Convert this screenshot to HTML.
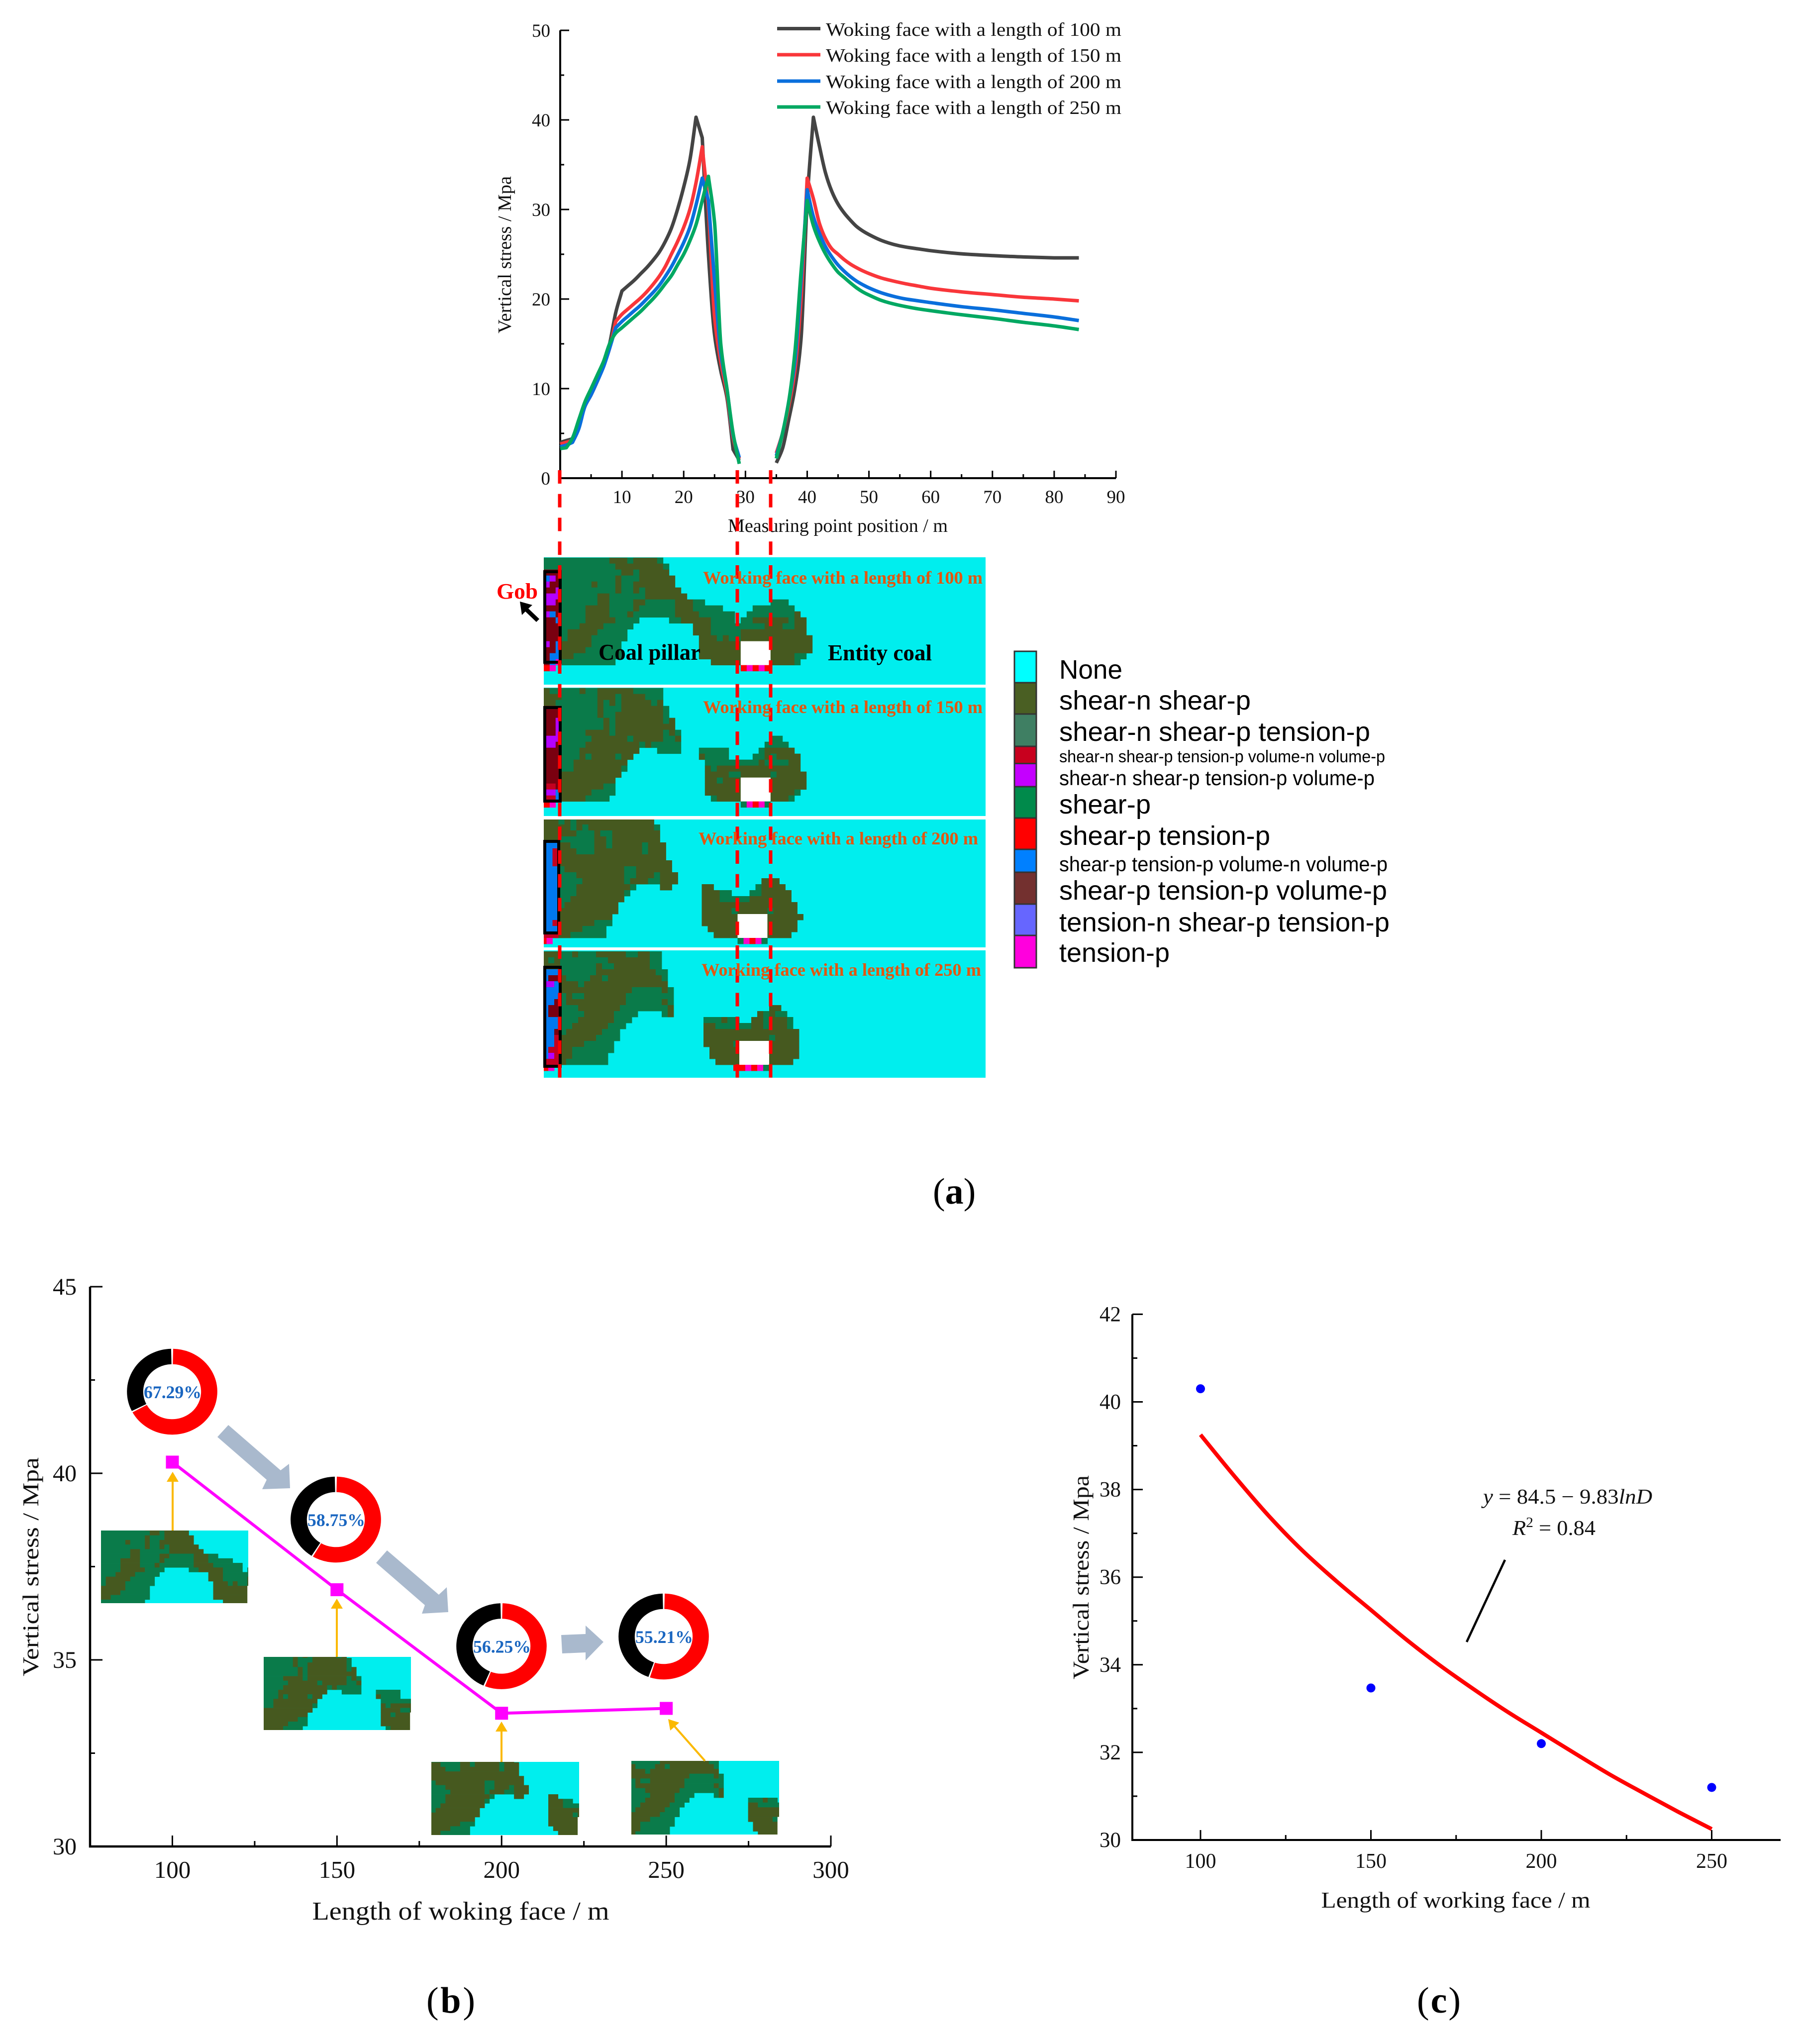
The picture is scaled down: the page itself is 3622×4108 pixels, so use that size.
<!DOCTYPE html>
<html lang="en">
<head>
<meta charset="utf-8">
<title>Vertical stress and plastic zone charts</title>
<style>
html,body{margin:0;padding:0;background:#fff;}
svg{display:block;}
text{font-family:"Liberation Serif",serif;fill:#111;}
.sans{font-family:"Liberation Sans",sans-serif;fill:#000;}
</style>
</head>
<body>
<svg id="fig" xmlns="http://www.w3.org/2000/svg" width="3622" height="4108" viewBox="0 0 3622 4108">
<rect x="0" y="0" width="3622" height="4108" fill="#fff"/>
<defs>
<clipPath id="clip-0"><rect x="1093" y="1120" width="888" height="256"/></clipPath>
<clipPath id="clip-1"><rect x="1093" y="1382" width="888" height="258"/></clipPath>
<clipPath id="clip-2"><rect x="1093" y="1647" width="888" height="257"/></clipPath>
<clipPath id="clip-3"><rect x="1093" y="1910" width="888" height="256"/></clipPath>
</defs>

<g id="chart-a">
  <text x="1014" y="512" transform="rotate(-90 1014 512) translate(0 13)" text-anchor="middle" font-size="38" textLength="316" lengthAdjust="spacingAndGlyphs">Vertical stress / Mpa</text>
  <text x="1684" y="1069" text-anchor="middle" font-size="38" textLength="442" lengthAdjust="spacingAndGlyphs">Measuring point position / m</text>
  <g>
    <line x1="1562" x2="1649" y1="57.5" y2="57.5" stroke="#444" stroke-width="7"/>
    <text x="1660" y="72" font-size="38" textLength="594" lengthAdjust="spacingAndGlyphs">Woking face with a length of 100 m</text>
    <line x1="1562" x2="1649" y1="110" y2="110" stroke="#f9363a" stroke-width="7"/>
    <text x="1660" y="124" font-size="38" textLength="594" lengthAdjust="spacingAndGlyphs">Woking face with a length of 150 m</text>
    <line x1="1562" x2="1649" y1="163" y2="163" stroke="#0a6fdc" stroke-width="7"/>
    <text x="1660" y="177" font-size="38" textLength="594" lengthAdjust="spacingAndGlyphs">Woking face with a length of 200 m</text>
    <line x1="1562" x2="1649" y1="215" y2="215" stroke="#00a862" stroke-width="7"/>
    <text x="1660" y="229" font-size="38" textLength="594" lengthAdjust="spacingAndGlyphs">Woking face with a length of 250 m</text>
  </g>
</g>

<g id="panels"></g>

<g fill="none" stroke="#000" stroke-width="6">
  <rect x="1095" y="1149" width="31" height="182"/>
  <rect x="1095" y="1422" width="31" height="188"/>
  <rect x="1095" y="1691" width="28" height="184"/>
  <rect x="1095" y="1944" width="31" height="199"/>
</g>

<g stroke="#ff0000" stroke-width="7" stroke-dasharray="27 20.75">
  <line x1="1125" x2="1125" y1="945" y2="2166"/>
  <line x1="1482" x2="1482" y1="945" y2="2166"/>
  <line x1="1549" x2="1549" y1="945" y2="2166"/>
</g>

<g>
  <text x="1413" y="1173" font-size="36" font-weight="bold" style="fill:#e3560f" textLength="562" lengthAdjust="spacingAndGlyphs">Working face with a length of 100 m</text>
  <text x="1413" y="1433" font-size="36" font-weight="bold" style="fill:#e3560f" textLength="562" lengthAdjust="spacingAndGlyphs">Working face with a length of 150 m</text>
  <text x="1404" y="1697" font-size="36" font-weight="bold" style="fill:#e3560f" textLength="562" lengthAdjust="spacingAndGlyphs">Working face with a length of 200 m</text>
  <text x="1410" y="1961" font-size="36" font-weight="bold" style="fill:#e3560f" textLength="562" lengthAdjust="spacingAndGlyphs">Working face with a length of 250 m</text>
  <text x="1203" y="1326" font-size="45" font-weight="bold" style="fill:#000" textLength="205" lengthAdjust="spacingAndGlyphs">Coal pillar</text>
  <text x="1664" y="1327" font-size="45" font-weight="bold" style="fill:#000" textLength="209" lengthAdjust="spacingAndGlyphs">Entity coal</text>
  <text x="998" y="1203" font-size="44" font-weight="bold" style="fill:#ff0000" textLength="83" lengthAdjust="spacingAndGlyphs">Gob</text>
  <polygon points="1045,1209 1070,1216 1062,1223 1084,1244 1078,1250 1056,1229 1049,1236" fill="#000"/>
</g>

<g>
  <g stroke="#333" stroke-width="3">
    <rect x="2039" y="1309" width="44" height="63" fill="#00ffff"/>
    <rect x="2039" y="1372" width="44" height="63" fill="#4a5f23"/>
    <rect x="2039" y="1435" width="44" height="65" fill="#3f7f63"/>
    <rect x="2039" y="1500" width="44" height="34.5" fill="#c8001e"/>
    <rect x="2039" y="1534.5" width="44" height="46.5" fill="#c400ff"/>
    <rect x="2039" y="1581" width="44" height="63" fill="#008a4b"/>
    <rect x="2039" y="1644" width="44" height="63" fill="#ff0000"/>
    <rect x="2039" y="1707" width="44" height="46" fill="#0080ff"/>
    <rect x="2039" y="1753" width="44" height="64" fill="#73302f"/>
    <rect x="2039" y="1817" width="44" height="63" fill="#6666ff"/>
    <rect x="2039" y="1880" width="44" height="65" fill="#ff00dd"/>
  </g>
  <text class="sans" x="2129" y="1364" font-size="54" textLength="127" lengthAdjust="spacingAndGlyphs">None</text>
  <text class="sans" x="2129" y="1426" font-size="54" textLength="385" lengthAdjust="spacingAndGlyphs">shear-n shear-p</text>
  <text class="sans" x="2129" y="1489" font-size="54" textLength="625" lengthAdjust="spacingAndGlyphs">shear-n shear-p tension-p</text>
  <text class="sans" x="2129" y="1532" font-size="34" textLength="655" lengthAdjust="spacingAndGlyphs">shear-n shear-p tension-p volume-n volume-p</text>
  <text class="sans" x="2129" y="1578" font-size="42" textLength="634" lengthAdjust="spacingAndGlyphs">shear-n shear-p tension-p volume-p</text>
  <text class="sans" x="2129" y="1635" font-size="54" textLength="184" lengthAdjust="spacingAndGlyphs">shear-p</text>
  <text class="sans" x="2129" y="1698" font-size="54" textLength="424" lengthAdjust="spacingAndGlyphs">shear-p tension-p</text>
  <text class="sans" x="2129" y="1751" font-size="42" textLength="660" lengthAdjust="spacingAndGlyphs">shear-p tension-p volume-n volume-p</text>
  <text class="sans" x="2129" y="1808" font-size="54" textLength="659" lengthAdjust="spacingAndGlyphs">shear-p tension-p volume-p</text>
  <text class="sans" x="2129" y="1872" font-size="54" textLength="664" lengthAdjust="spacingAndGlyphs">tension-n shear-p tension-p</text>
  <text class="sans" x="2129" y="1933" font-size="54" textLength="222" lengthAdjust="spacingAndGlyphs">tension-p</text>
</g>

<text x="1875" y="2419" font-size="74" style="fill:#000">(<tspan font-weight="bold" style="fill:#000">a</tspan>)</text>
<text x="857" y="4045" font-size="74" textLength="98" style="fill:#000">(<tspan font-weight="bold" style="fill:#000">b</tspan>)</text>
<text x="2848" y="4045" font-size="74" textLength="88" style="fill:#000">(<tspan font-weight="bold" style="fill:#000">c</tspan>)</text>

<g id="chart-b">
  <text x="62" y="3149" transform="rotate(-90 62 3149) translate(0 15)" text-anchor="middle" font-size="46" textLength="440" lengthAdjust="spacingAndGlyphs">Vertical stress / Mpa</text>
  <text x="926" y="3858" text-anchor="middle" font-size="52" textLength="597" lengthAdjust="spacingAndGlyphs">Length of woking face / m</text>
  <polygon points="459,2864 437,2888 536,2974 527,2993 583,2991 581,2942 564,2955" fill="#a9b9cd"/>
  <polygon points="778,3116 756,3141 854,3226 848,3243 901,3240 898,3190 882,3205" fill="#a9b9cd"/>
  <polygon points="1128,3286 1130,3323 1177,3321 1177,3337 1213,3300 1177,3267 1177,3284" fill="#a9b9cd"/>
</g>

<g id="chart-c">
  <text x="2173" y="3170" transform="rotate(-90 2173 3170) translate(0 15)" text-anchor="middle" font-size="46" textLength="410" lengthAdjust="spacingAndGlyphs">Vertical stress / Mpa</text>
  <text x="2926" y="3834" text-anchor="middle" font-size="46" textLength="541" lengthAdjust="spacingAndGlyphs">Length of working face / m</text>
  <text x="2981" y="3022" font-size="42" textLength="340" lengthAdjust="spacingAndGlyphs"><tspan font-style="italic">y</tspan> = 84.5 − 9.83<tspan font-style="italic">lnD</tspan></text>
  <text x="3040" y="3085" font-size="42" textLength="167" lengthAdjust="spacingAndGlyphs"><tspan font-style="italic">R</tspan><tspan dy="-16" font-size="28">2</tspan><tspan dy="16"> = 0.84</tspan></text>
  <line x1="3025" y1="3135" x2="2948" y2="3300" stroke="#000" stroke-width="4.5"/>
</g>
</svg>

<script>
/* ---------- chart (a) data ---------- */
const aXTicks = [10,20,30,40,50,60,70,80,90];
const aXMinor = [5,15,25,35,45,55,65,75,85];
const aYTicks = [0,10,20,30,40,50];
const aYMinor = [5,15,25,35,45];
const aXLeft  = [0,1,2,3,4,5,6,7,8,9,10,11,12,13,14,15,16,17,18,19,20,21,22,23,24,25,26,27,28,29];
const aXRight = [35,36,37,38,39,40,41,42,43,44,45,46,47,48,49,50,52,54,56,58,60,65,70,75,80,84];
const s100Left  = [4,4.2,4.4,5.8,8,9.5,11,12.6,15,18.5,20.9,21.5,22.1,22.8,23.5,24.3,25.2,26.4,27.9,30,32.5,35.5,40.3,38,25,16,12,9,3.2,2];
const s150Left  = [3.8,4,4.2,5.8,8,9.3,10.8,12.5,14.5,17.5,18.3,18.9,19.5,20.1,20.8,21.6,22.5,23.6,25,26.4,28,30,33,37,30,18,13,9.5,4.5,2.2];
const s200Left  = [3.5,3.7,4,5.5,8,9.3,10.8,12.4,14.5,16.8,17.5,18.1,18.7,19.3,20,20.7,21.5,22.5,23.6,24.9,26.3,28,30.5,33.5,31,22,14,10,4.8,2.3];
const s250Left  = [3.3,3.4,4.5,6.5,8.5,10,11.5,13,15,16.2,16.8,17.4,18,18.6,19.3,20,20.8,21.7,22.6,23.8,25,26.5,28.3,31,33.7,28.5,15,10,5,1.6];
const s100Right = [1.7,3.3,6.5,10,15.5,31,40.3,37,34,32,30.6,29.6,28.8,28.1,27.6,27.2,26.55,26.1,25.8,25.6,25.4,25.05,24.85,24.7,24.6,24.6];
const s150Right = [2.8,5,8,12,20,33.5,31.2,28.4,26.7,25.6,25,24.4,23.9,23.5,23.15,22.85,22.35,22,21.7,21.45,21.2,20.8,20.5,20.2,20,19.8];
const s200Right = [2.5,5,8.5,13,22,32.2,29.2,27.3,25.8,24.7,23.8,23.1,22.5,22,21.6,21.25,20.7,20.3,20,19.8,19.6,19.15,18.8,18.4,18,17.6];
const s250Right = [2.2,5,8.5,14,23,31,28.2,26.4,25,23.9,23,22.4,21.8,21.25,20.8,20.45,19.85,19.45,19.15,18.9,18.7,18.25,17.85,17.4,17,16.6];

/* ---------- plastic zone grids, run-length rows ---------- */
const gridColors = {g:'#0a7b4a',o:'#46591f',k:'#7a0010',p:'#b400ff',b:'#0078f0',c:'#c40020',r:'#ff0000',m:'#ff00c8',w:'#ffffff'};
const zone100 = [
"g11 o3 g1 o4 g1","g12 o8 g1","k3 g10 o2 g1 o5","b1 p1 k1 g9 o1 g3 o6","p1 k2 g5 o1 g3 o1 g2 o7","k2 p1 g9 o1 g2 o1 g1 o6",
"p3 g6 o2 g6 o7","p2 k1 g6 o2 g4 o2 g5 o3 g2 .11 g3","k3 g4 o4 g4 o1 g6 o3 g5 .5 g7","p1 b1 k1 g4 o4 g3 o1 g7 o4 g6 .2 g8 o1",
"k2 b1 g4 o5 g4 .5 g2 o5 g4 .1 g2 o6 g1 o2","k3 g3 o4 g5 .10 o3 g9 o3 g2 o2","k3 g1 o5 g5 .11 o3 g5 o11","k3 g1 o4 g6 .12 o3 g1 o1 g2 o12",
"p1 k1 b1 o5 g5 .13 o7 w5 o7","k2 b1 o4 g6 .13 o7 w5 o7","k1 b2 o2 g8 .13 o7 w5 o4 g2","k1 b1 m1 g9 .16 o5 w5 o4 g1","r1 m1 .31 r1 m1 r1 m1 r1"];
const zone150 = [
"o1 g5 o1 g2 o6 g5","o3 g6 o3 g1 o4 g3","o2 g7 o1 g1 o1 g1 o5 g1 o1","k3 g6 o1 g3 o7 g1","k3 g6 o1 g2 o8 g1","k2 p1 g7 o1 g1 o8 g1 o1",
"k2 p1 g7 o1 g1 o10","k2 p1 g4 o4 g1 o8 g1 o1 g1","p3 g5 o6 g1 o5 g2 o1 .15 g2","p2 k1 g4 o9 g1 o1 g5 .14 g4","k3 g3 o10 .3 g4 .3 g5 .5 g1 o5",
"k3 g3 o1 g1 o4 g1 o2 .11 o1 g4 .4 g2 o1 g1 o4","k3 g2 o9 .13 g9 o1 g4 o2","k3 g2 o8 g1 .13 o1 g1 o14","k3 o10 .14 o4 g2 o5 g1 o5",
"k3 o9 .15 o2 g1 o3 w5 o6","c2 k1 o7 g2 .15 o6 w5 o6","p2 b1 o5 g4 .15 o6 w5 o4 g1","c2 b1 o4 g4 .17 g1 o4 w5 o3 g1","r1 m1 .31 g1 m1 r1 m1 g1"];
const zone200 = [
"o3 g1 o1 g1 o13","o5 g1 o1 g1 o11 g1","o6 g3 o1 g2 o8","o3 g6 o2 g1 o8","b3 o2 g4 o2 g1 o5 g1 o3","b2 c1 o3 g3 o8 g1 o3","b2 c1 o18","b2 c1 o19",
"b3 g1 o10 g2 o6","b3 g3 o8 g2 o3 g1 o3","b3 g4 o7 g1 o3 g2 o3 .14 o3","b3 g3 o9 g1 .4 o2 .5 o2 .7 g1 o4","b3 g3 o8 g1 .12 o3 g2 .3 g2 o5",
"b3 g2 o9 .13 o3 g5 o7","b3 g1 o9 .14 o16","b3 o10 .14 o5 g1 o5 g1 o4","b3 o9 .15 o6 w5 o6","b2 c1 o6 g3 .15 o6 w5 o5","b3 o4 g4 .17 o5 w5 o5",
"c3 o2 g6 .18 o4 w5 o4","r1 m1 .31 g1 m1 r1 m1 g1"];
const zone250 = [
"o3 g2 o1 g3 o5 g2 o2 g2","o1 g1 o1 g8 o7 g2","o3 g6 o1 g2 o6 g2","b3 g6 o10 g2","b1 k2 o1 g4 o2 g1 o9 g1","p2 b1 o3 g1 o14","b3 o12 g5 o1 g1",
"b3 g1 o1 g2 o7 g8","b2 k1 g1 o10 g6 o1 g1","b1 k2 g3 o7 g8 o1 .16 o2","b1 k2 g4 o5 g4 .4 g1 o1 .14 o1 g1 o1 g2","b3 g3 o6 g3 .12 g3 o1 g2 .2 o2 g1 o3 g1",
"b3 g2 o6 g3 .13 o2 g6 o2 g1 o3 g1","b2 k1 g1 o6 g3 .14 o16","b2 c1 o6 g4 .14 o11 g1 o4","b2 c1 o4 g5 .15 o5 g1 w5 o5","b1 c2 o2 g7 .16 o5 w5 o5",
"b1 p1 c1 o2 g6 .17 o5 w5 o5","c3 o1 g7 .18 o4 w5 o4","r1 m1 .30 r2 m1 r1 m1 g1"];

/* ---------- chart (b) data ---------- */
const bLengths = [100,150,200,250];
const bStress  = [40.3,36.88,33.57,33.7];
const bPercent = [67.29,58.75,56.25,55.21];
const bXTicks  = [100,150,200,250,300];
const bXMinor  = [125,175,225,275];
const bYTicks  = [30,35,40,45];
const bYMinor  = [32.5,37.5,42.5];

/* ---------- chart (c) data ---------- */
const cLengths = [100,150,200,250];
const cStress  = [40.3,33.47,32.2,31.2];
const cFitX    = [100,110,120,130,140,150,160,170,180,190,200,210,220,230,240,250];
const cFitY    = [39.25,38.3,37.4,36.6,35.9,35.25,34.6,34.0,33.45,32.93,32.45,31.97,31.5,31.07,30.65,30.25];
const cXTicks  = [100,150,200,250];
const cXMinor  = [125,175,225];
const cYTicks  = [30,32,34,36,38,40,42];
const cYMinor  = [31,33,35,37,39,41];

const NS = 'http://www.w3.org/2000/svg';
function mk(tag, attrs, parent) {
  const node = document.createElementNS(NS, tag);
  for (const k in attrs) node.setAttribute(k, attrs[k]);
  parent.appendChild(node);
  return node;
}
function pathOf(xs, ys, fx, fy) {
  return xs.map((v, i) => (i ? 'L' : 'M') + fx(v).toFixed(1) + ' ' + fy(ys[i]).toFixed(1)).join(' ');
}
/* smooth curve through the data points, keeping peaks and sharp bends as corners */
function smoothOf(xs, ys, fx, fy) {
  const px = xs.map(fx), py = ys.map(fy), n = px.length;
  const sec = [];
  for (let i = 0; i < n - 1; i++) sec.push((py[i + 1] - py[i]) / (px[i + 1] - px[i]));
  const tanIn = [], tanOut = [];
  for (let i = 0; i < n; i++) {
    if (i === 0) { tanIn.push(sec[0]); tanOut.push(sec[0]); continue; }
    if (i === n - 1) { tanIn.push(sec[n - 2]); tanOut.push(sec[n - 2]); continue; }
    const a = sec[i - 1], b = sec[i];
    const big = Math.max(Math.abs(a), Math.abs(b)), small = Math.min(Math.abs(a), Math.abs(b));
    if (a * b <= 0 || big > 3 * small) { tanIn.push(a); tanOut.push(b); }
    else { const t = 2 * a * b / (a + b); tanIn.push(t); tanOut.push(t); }
  }
  let d = 'M' + px[0].toFixed(1) + ' ' + py[0].toFixed(1);
  for (let i = 0; i < n - 1; i++) {
    const h = (px[i + 1] - px[i]) / 3;
    d += 'C' + (px[i] + h).toFixed(1) + ' ' + (py[i] + tanOut[i] * h).toFixed(1) + ' ' +
         (px[i + 1] - h).toFixed(1) + ' ' + (py[i + 1] - tanIn[i + 1] * h).toFixed(1) + ' ' +
         px[i + 1].toFixed(1) + ' ' + py[i + 1].toFixed(1);
  }
  return d;
}

/* ---------- draw chart (a) ---------- */
(function () {
  const root = document.getElementById('chart-a');
  const X = v => 1126 + v * (2243 - 1126) / 90;
  const Y = v => 961 - v * 18;
  let el;
  el = mk('path', {d:`M${X(0)} ${Y(50)}V${Y(0)}H${X(90)}`, fill:'none', stroke:'#000', 'stroke-width':4}, root);
  
  
  aXTicks.forEach(v => {
    el = mk('line', {x1:X(v), x2:X(v), y1:Y(0), y2:Y(0)-15, stroke:'#000', 'stroke-width':3}, root);
    
    
    el = mk('text', {x:X(v), y:1011, 'text-anchor':'middle', 'font-size':37}, root);
    
    
    el.textContent = v;
  });
  aXMinor.forEach(v => {
    el = mk('line', {x1:X(v), x2:X(v), y1:Y(0), y2:Y(0)-8, stroke:'#000', 'stroke-width':3}, root);
    
    
  });
  aYTicks.forEach(v => {
    el = mk('line', {x1:X(0), x2:X(0)+18, y1:Y(v), y2:Y(v), stroke:'#000', 'stroke-width':3}, root);
    
    
    el = mk('text', {x:1106, y:Y(v)+13, 'text-anchor':'end', 'font-size':37}, root);
    
    
    el.textContent = v;
  });
  aYMinor.forEach(v => {
    el = mk('line', {x1:X(0), x2:X(0)+8, y1:Y(v), y2:Y(v), stroke:'#000', 'stroke-width':3}, root);
    
    
  });
  const style = {fill:'none', 'stroke-width':7, 'stroke-linejoin':'round'};
  el = mk('path', Object.assign({d:smoothOf(aXLeft, s100Left, X, Y) + ' ' + smoothOf(aXRight, s100Right, X, Y), stroke:'#444'}, style), root);
  
  
  el = mk('path', Object.assign({d:smoothOf(aXLeft, s150Left, X, Y) + ' ' + smoothOf(aXRight, s150Right, X, Y), stroke:'#f9363a'}, style), root);
  
  
  el = mk('path', Object.assign({d:smoothOf(aXLeft, s200Left, X, Y) + ' ' + smoothOf(aXRight, s200Right, X, Y), stroke:'#0a6fdc'}, style), root);
  
  
  el = mk('path', Object.assign({d:smoothOf(aXLeft, s250Left, X, Y) + ' ' + smoothOf(aXRight, s250Right, X, Y), stroke:'#00a862'}, style), root);
  
  
})();

/* ---------- draw plastic zone panels ---------- */
(function () {
  const root = document.getElementById('panels');
  const zones = [zone100, zone150, zone200, zone250];
  const frames = [
    {top:1120, h:256, ox:1092.8, oy:1120.7},
    {top:1382, h:258, ox:1092.8, oy:1382.7},
    {top:1647, h:257, ox:1086.5, oy:1645},
    {top:1910, h:256, ox:1090, oy:1912}
  ];
  zones.forEach((rows, idx) => {
    const f = frames[idx];
    const g = mk('g', {id:'grid-' + idx, 'clip-path':'url(#clip-' + idx + ')'}, root);
    
    
    const bg = mk('rect', {x:1093, y:f.top, width:888, height:f.h, fill:'#00eeee'}, g);
    
    
    rows.forEach((row, r) => {
      let c = 0;
      row.split(' ').forEach(tok => {
        const kind = tok[0];
        const n = parseInt(tok.slice(1), 10);
        if (kind !== '.') {
          const cell = mk('rect', {x:f.ox + c * 12, y:f.oy + r * 12, width:n * 12 + 0.4, height:12.4, fill:gridColors[kind]}, g);
          
          
        }
        c += n;
      });
    });
  });
})();

/* ---------- draw chart (b) ---------- */
(function () {
  const root = document.getElementById('chart-b');
  const X = v => 181 + (v - 75) * (1670 - 181) / 225;
  const Y = v => 3711 - (v - 30) * 75;
  let el;
  el = mk('path', {d:`M${X(75)} ${Y(45)}V${Y(30)}H${X(300)}`, fill:'none', stroke:'#000', 'stroke-width':4.5}, root);
  
  
  bXTicks.forEach(v => {
    el = mk('line', {x1:X(v), x2:X(v), y1:Y(30), y2:Y(30)-22, stroke:'#000', 'stroke-width':3}, root);
    
    
    el = mk('text', {x:X(v), y:3774, 'text-anchor':'middle', 'font-size':49}, root);
    
    
    el.textContent = v;
  });
  bXMinor.forEach(v => {
    el = mk('line', {x1:X(v), x2:X(v), y1:Y(30), y2:Y(30)-11, stroke:'#000', 'stroke-width':3}, root);
    
    
  });
  bYTicks.forEach(v => {
    el = mk('line', {x1:X(75), x2:X(75)+25, y1:Y(v), y2:Y(v), stroke:'#000', 'stroke-width':3}, root);
    
    
    el = mk('text', {x:154, y:Y(v)+16, 'text-anchor':'end', 'font-size':48}, root);
    
    
    el.textContent = v;
  });
  bYMinor.forEach(v => {
    el = mk('line', {x1:X(75), x2:X(75)+10, y1:Y(v), y2:Y(v), stroke:'#000', 'stroke-width':3}, root);
    
    
  });

  /* zone insets reuse the panel grids, cropped to the coal pillar */
  const insets = [
    {i:0, x:203, y:3076, w:296, h:146, vx:1129, vy:1144, vw:362, vh:190},
    {i:1, x:530, y:3330, w:296, h:147, vx:1129, vy:1416, vw:362, vh:193},
    {i:2, x:867, y:3541, w:297, h:147, vx:1124, vy:1692, vw:362, vh:192},
    {i:3, x:1269, y:3539, w:297, h:148, vx:1128, vy:1952, vw:362, vh:184}
  ];
  insets.forEach(s => {
    const sv = mk('svg', {x:s.x, y:s.y, width:s.w, height:s.h, viewBox:`${s.vx} ${s.vy} ${s.vw} ${s.vh}`, preserveAspectRatio:'none'}, root);
    
    
    const u = mk('use', {href:'#grid-' + s.i}, sv);
    
    
  });

  /* orange pointer arrows */
  const pointers = [
    {x1:347, y1:3076, x2:347, y2:2958},
    {x1:677, y1:3330, x2:677, y2:3213},
    {x1:1008, y1:3541, x2:1008, y2:3460},
    {x1:1417, y1:3539, x2:1343, y2:3455}
  ];
  pointers.forEach(p => {
    const a = Math.atan2(p.y2 - p.y1, p.x2 - p.x1);
    const bx = p.x2 - 20 * Math.cos(a), by = p.y2 - 20 * Math.sin(a);
    const nx = -Math.sin(a) * 12, ny = Math.cos(a) * 12;
    let e = mk('line', {x1:p.x1, y1:p.y1, x2:bx, y2:by, stroke:'#fbb900', 'stroke-width':4}, root);
    
    
    e = mk('polygon', {points:`${p.x2},${p.y2} ${bx+nx},${by+ny} ${bx-nx},${by-ny}`, fill:'#fbb900'}, root);
    
    
  });

  el = mk('path', {d:pathOf(bLengths, bStress, X, Y), fill:'none', stroke:'#ff00ff', 'stroke-width':6}, root);
  
  
  bLengths.forEach((v, i) => {
    el = mk('rect', {x:X(v)-13, y:Y(bStress[i])-13, width:26, height:26, fill:'#ff00ff'}, root);
    
    
  });

  /* donuts */
  const centers = [{x:346,y:2797},{x:675,y:3054},{x:1008,y:3308.5},{x:1334,y:3289}];
  const arcPath = (from, to) => {
    const R = 73, rad = d => (d - 90) * Math.PI / 180;
    const large = (to - from) > 180 ? 1 : 0;
    return `M${(R*Math.cos(rad(from))).toFixed(2)} ${(R*Math.sin(rad(from))).toFixed(2)}A${R} ${R} 0 ${large} 1 ${(R*Math.cos(rad(to))).toFixed(2)} ${(R*Math.sin(rad(to))).toFixed(2)}`;
  };
  bPercent.forEach((pct, i) => {
    const c = centers[i];
    const g = mk('g', {transform:`translate(${c.x} ${c.y}) scale(1.02 0.97)`}, root);
    
    
    const endA = pct * 3.6;
    let e = mk('path', {d:arcPath(1.3, endA - 1), fill:'none', stroke:'#ff0000', 'stroke-width':32}, g);
    
    
    e = mk('path', {d:arcPath(endA + 1, 358.7), fill:'none', stroke:'#000', 'stroke-width':32}, g);
    
    
    e = mk('text', {x:c.x + 1, y:c.y + 13, 'text-anchor':'middle', 'font-size':36, 'font-weight':'bold', textLength:116, lengthAdjust:'spacingAndGlyphs', style:'fill:#1a66c0'}, root);
    
    
    e.textContent = pct.toFixed(2) + '%';
  });
})();

/* ---------- draw chart (c) ---------- */
(function () {
  const root = document.getElementById('chart-c');
  const X = v => 2413 + (v - 100) * 6.85;
  const Y = v => 3698 - (v - 30) * 88.05;
  let el;
  el = mk('path', {d:`M${X(80)} ${Y(42)}V${Y(30)}H3579`, fill:'none', stroke:'#000', 'stroke-width':4}, root);
  
  
  cXTicks.forEach(v => {
    el = mk('line', {x1:X(v), x2:X(v), y1:Y(30), y2:Y(30)-20, stroke:'#000', 'stroke-width':3}, root);
    
    
    el = mk('text', {x:X(v), y:3754, 'text-anchor':'middle', 'font-size':42}, root);
    
    
    el.textContent = v;
  });
  cXMinor.forEach(v => {
    el = mk('line', {x1:X(v), x2:X(v), y1:Y(30), y2:Y(30)-10, stroke:'#000', 'stroke-width':3}, root);
    
    
  });
  cYTicks.forEach(v => {
    el = mk('line', {x1:X(80), x2:X(80)+21, y1:Y(v), y2:Y(v), stroke:'#000', 'stroke-width':3}, root);
    
    
    el = mk('text', {x:2253, y:Y(v)+14, 'text-anchor':'end', 'font-size':43}, root);
    
    
    el.textContent = v;
  });
  cYMinor.forEach(v => {
    el = mk('line', {x1:X(80), x2:X(80)+10, y1:Y(v), y2:Y(v), stroke:'#000', 'stroke-width':3}, root);
    
    
  });
  el = mk('path', {d:smoothOf(cFitX, cFitY, X, Y), fill:'none', stroke:'#ff0000', 'stroke-width':8, 'stroke-linejoin':'round'}, root);
  
  
  cLengths.forEach((v, i) => {
    el = mk('circle', {cx:X(v), cy:Y(cStress[i]), r:9, fill:'#0000ff'}, root);
    
    
  });
})();
</script>
</body>
</html>
